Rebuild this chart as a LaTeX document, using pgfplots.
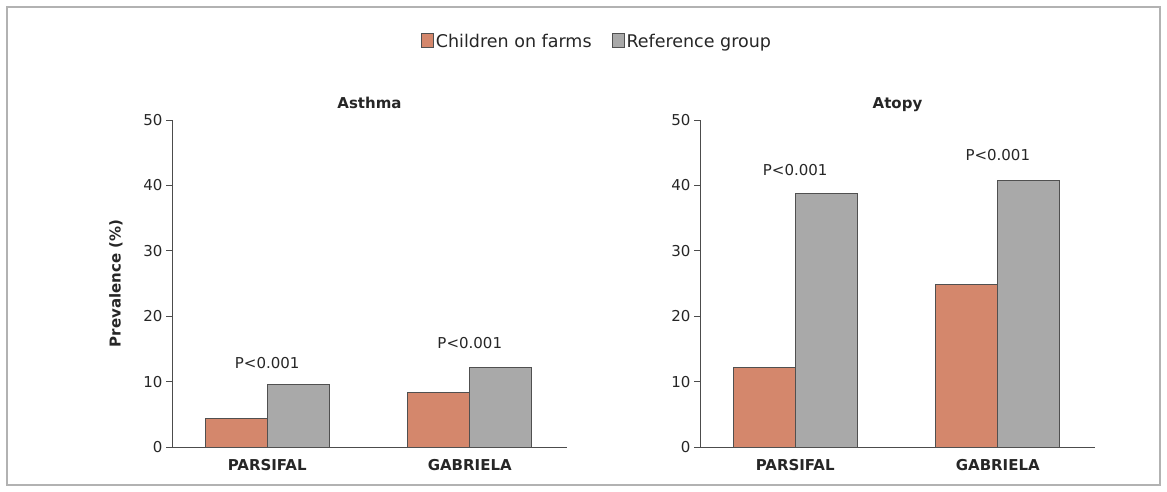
\documentclass[border=0pt]{standalone}
\usepackage{pgfplots}
\pgfplotsset{compat=1.18}
\usepackage{pgfplotstable}
\usepackage{fontspec}
\setmainfont{DejaVu Sans}

\definecolor{farm}{HTML}{D4876C}
\definecolor{refgrp}{HTML}{A9A9A9}
\definecolor{edge}{HTML}{505050}
\definecolor{txt}{HTML}{262626}

% prevalence (%) by study: children on farms vs. reference group
\pgfplotstableread{
x farm ref
0 4.4 9.5
1 8.3 12.1
}\asthma
\pgfplotstableread{
x farm ref
0 12.1 38.7
1 24.8 40.8
}\atopy

\newcommand{\lbl}{\fontsize{15}{18}\selectfont}
\newcommand{\leg}{\fontsize{17.5}{20}\selectfont}

\pgfplotsset{
  panel/.style={
    scale only axis, width=395pt, height=327pt,
    ybar=0pt, bar width=62pt,
    xmin=-0.47, xmax=1.48, ymin=0, ymax=50,
    xtick={0,1}, xticklabels={PARSIFAL,GABRIELA},
    ytick={0,10,...,50},
    axis x line=bottom, axis y line=left,
    axis line style={-, draw=black!70, line width=0.9pt},
    x tick style={draw=none},
    y tick style={draw=black!70, line width=0.8pt},
    tick align=outside, major tick length=6pt,
    xticklabel style={font=\lbl\bfseries, text=txt, yshift=-3pt},
    yticklabel style={font=\lbl, text=txt},
    /pgf/number format/assume math mode=true,
    title style={font=\lbl\bfseries, text=txt, at={(0.5,1)}, anchor=base, yshift=5.5pt},
    every axis plot/.append style={draw=edge, line width=0.9pt},
    clip=false,
  }
}

\begin{document}
\begin{tikzpicture}
\useasboundingbox (0pt,0pt) rectangle (1167pt,492pt);
\draw[black!30, line width=2pt] (7pt,7pt) rectangle (1160pt,485pt);

\begin{axis}[panel, at={(172pt,45pt)}, anchor=south west,
    title={Asthma},
    ylabel={Prevalence (\%)},
    ylabel style={font=\lbl\bfseries, text=txt, at={(axis description cs:-0.142,0.5)}, anchor=center},
    legend columns=2,
    legend style={at={(1.076,1.239)}, anchor=center, draw=none, fill=none,
      font=\leg, text=txt, /tikz/every even column/.append style={column sep=18pt}},
    legend image code/.code={\draw[#1] (0pt,-6pt) rectangle (12pt,8pt);},
  ]
  \addplot[fill=farm] table[x=x, y=farm] {\asthma};
  \addplot[fill=refgrp] table[x=x, y=ref] {\asthma};
  \legend{Children on farms, Reference group}
  \node[font=\lbl, text=txt] at (axis cs:0,12.8) {P<0.001};
  \node[font=\lbl, text=txt] at (axis cs:1,15.9) {P<0.001};
\end{axis}

\begin{axis}[panel, at={(700pt,45pt)}, anchor=south west,
    title={Atopy},
  ]
  \addplot[fill=farm] table[x=x, y=farm] {\atopy};
  \addplot[fill=refgrp] table[x=x, y=ref] {\atopy};
  \node[font=\lbl, text=txt] at (axis cs:0,42.4) {P<0.001};
  \node[font=\lbl, text=txt] at (axis cs:1,44.6) {P<0.001};
\end{axis}
\end{tikzpicture}
\end{document}
